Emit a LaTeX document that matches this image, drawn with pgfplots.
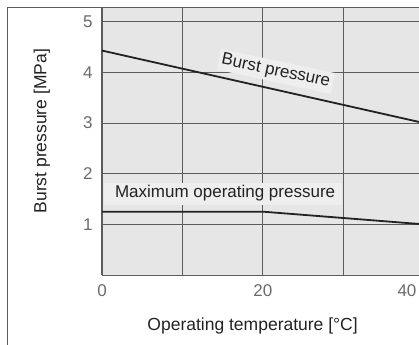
\documentclass[border=0pt]{standalone}
\usepackage{fontspec}
\setmainfont{Liberation Sans}
\usepackage{pgfplots}
\pgfplotsset{compat=1.18}
\definecolor{bgc}{HTML}{E6E6E6}
\definecolor{lblc}{HTML}{EEEEEE}
\definecolor{gridc}{HTML}{5C5C5C}
\definecolor{tickc}{HTML}{6A6A6A}
\definecolor{txtc}{HTML}{222222}
\newcommand{\fs}{\fontsize{17bp}{20bp}\selectfont}
\newcommand{\fl}{\fontsize{17.5bp}{20bp}\selectfont}
\begin{document}
\begin{tikzpicture}[x=1bp,y=1bp]
\begin{axis}[
  at={(0,0)}, anchor=south west,
  scale only axis, width=317bp, height=268bp,
  xmin=0, xmax=39.4, ymin=0, ymax=5.29,
  axis x line*=bottom, axis y line*=left,
  axis line style={-, draw=gridc, line width=1bp},
  axis background/.style={fill=bgc},
  xtick={0,10,20,30}, xticklabels={0,,20,},
  ytick={1,2,3,4,5},
  grid=major,
  major grid style={draw=gridc, line width=0.9bp},
  major tick length=0pt,
  /pgf/number format/assume math mode=true,
  tick label style={font=\fs, text=tickc},
  xticklabel style={yshift=-6bp},
  yticklabel style={xshift=-6bp},
  xlabel={Operating temperature [\textdegree C]},
  ylabel={Burst pressure [MPa]},
  xlabel style={at={(axis description cs:0.475,-0.19)}, anchor=center, font=\fl, text=txtc},
  ylabel style={at={(axis description cs:-0.19,0.537)}, anchor=center, font=\fl, text=txtc},
]
\fill[lblc] (axis cs:0.3,1.38) rectangle (axis cs:29.8,1.82);
\node[text=txtc, font=\fs] at (axis cs:15.3,1.62) {Maximum operating pressure};
\node[fill=lblc, inner sep=3bp, rotate=-12, text=txtc, font=\fs] at (axis cs:21.6,4.02) {Burst pressure};
\addplot[color=txtc, line width=1.8bp] coordinates {(0,4.43) (40,3.0)};
\addplot[color=txtc, line width=1.8bp] coordinates {(0,1.25) (20,1.25) (40,1.0)};
\end{axis}
\node[anchor=north, text=tickc, font=\fs, yshift=-6bp, inner sep=0.3333em] at (305,0) {40};
\draw[gridc, line width=1bp] (-94,-70) -- (-94,268) -- (317,268);
\pgfresetboundingbox
\useasboundingbox (-102,-70) rectangle (317,275);
\end{tikzpicture}
\end{document}
